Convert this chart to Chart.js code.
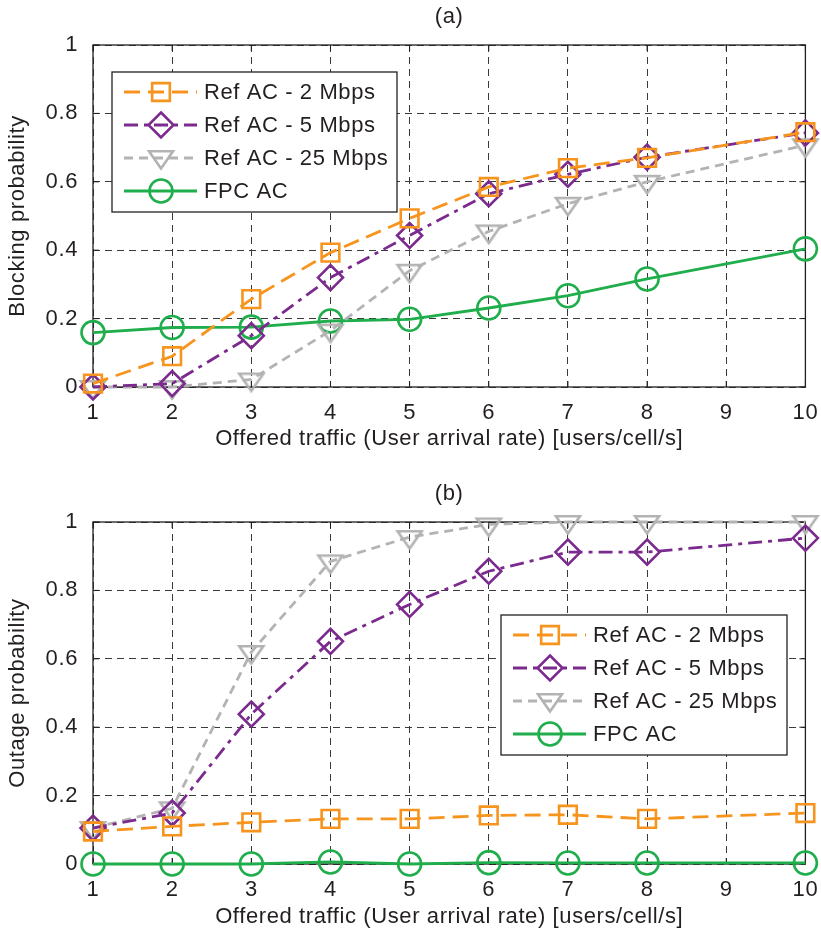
<!DOCTYPE html>
<html><head><meta charset="utf-8">
<script src="https://cdn.jsdelivr.net/npm/chart.js@4.4.0/dist/chart.umd.min.js"></script>
<style>
html,body{margin:0;padding:0;background:#fff;overflow:hidden;width:821px;height:938px}
.wrap{position:absolute;left:0;width:821px}
</style></head><body>
<div class="wrap" style="top:0;height:477px"><canvas id="c1" width="821" height="477"></canvas></div>
<div class="wrap" style="top:477px;height:461px"><canvas id="c2" width="821" height="461"></canvas></div>
<script>
// ---- data ----
const xValues = [1, 2, 3, 4, 5, 6, 7, 8, 10];
const xTickValues = [1, 2, 3, 4, 5, 6, 7, 8, 9, 10];
const yTickValues = [0, 0.2, 0.4, 0.6, 0.8, 1];
const yTickLabels = ['0', '0.2', '0.4', '0.6', '0.8', '1'];
const seriesNames = ['Ref AC - 2 Mbps', 'Ref AC - 5 Mbps', 'Ref AC - 25 Mbps', 'FPC AC'];

// (a) Blocking probability
const blockRef2  = [0.01, 0.09, 0.257, 0.393, 0.493, 0.585, 0.64, 0.67, 0.745];
const blockRef5  = [0.0, 0.01, 0.15, 0.32, 0.443, 0.565, 0.622, 0.672, 0.743];
const blockRef25 = [0.0, 0.0, 0.022, 0.165, 0.34, 0.455, 0.536, 0.60, 0.707];
const blockFPC   = [0.159, 0.174, 0.175, 0.193, 0.198, 0.231, 0.267, 0.316, 0.404];

// (b) Outage probability
const outRef2  = [0.095, 0.11, 0.122, 0.132, 0.132, 0.142, 0.144, 0.132, 0.149];
const outRef5  = [0.105, 0.149, 0.438, 0.651, 0.759, 0.856, 0.912, 0.912, 0.953];
const outRef25 = [0.105, 0.163, 0.62, 0.885, 0.956, 0.993, 1.0, 1.0, 1.0];
const outFPC   = [0.0, 0.0, 0.0, 0.006, 0.0, 0.004, 0.003, 0.003, 0.003];

// ---- styles ----
const FONT = "'Liberation Sans', Arial, Helvetica, sans-serif";
const FSIZE = 22;
const LSP = '0.6px';
const TEXT = '#231f20';
const colors = ['#f7941e', '#7b2a8e', '#b3b3b3', '#1fae4b'];
const dashes = [[16, 8], [14, 6, 4, 6], [9, 6], []];
const pStyles = ['rect', 'rectRot', 'tri', 'circle'];
const pRad = [12.5, 12.5, 13, 11.5];

function mkData(arr) { return xValues.map((x, i) => ({x: x, y: arr[i]})); }

// flat downward triangle (centroid at the point)
function triPath(ctx, x, y) {
  ctx.moveTo(x - 12, y - 5.7); ctx.lineTo(x + 12, y - 5.7); ctx.lineTo(x, y + 11.4); ctx.closePath();
}
function makeTriImage(color) {
  const c = document.createElement('canvas');
  c.width = 34; c.height = 34;
  const g = c.getContext('2d');
  g.strokeStyle = color; g.lineWidth = 2.6; g.lineJoin = 'miter';
  g.beginPath(); triPath(g, 17, 17); g.stroke();
  return c;
}
const triImage = makeTriImage(colors[2]);

function markerPath(ctx, style, x, y, r) {
  ctx.beginPath();
  if (style === 'rect') {
    const s = r * Math.SQRT1_2; ctx.rect(x - s, y - s, 2 * s, 2 * s);
  } else if (style === 'rectRot') {
    ctx.moveTo(x, y - r); ctx.lineTo(x + r, y); ctx.lineTo(x, y + r); ctx.lineTo(x - r, y); ctx.closePath();
  } else if (style === 'tri') {
    triPath(ctx, x, y);
  } else {
    ctx.arc(x, y, r, 0, Math.PI * 2);
  }
}

const framePlugin = {
  id: 'frame',
  beforeInit(chart) { try { chart.ctx.letterSpacing = LSP; } catch (e) {} },
  beforeDraw(chart) { try { chart.ctx.letterSpacing = LSP; } catch (e) {} },
  beforeDatasetsDraw(chart) {
    const ca = chart.chartArea, ctx = chart.ctx;
    const xs = chart.scales.x, ys = chart.scales.y;
    ctx.save();
    ctx.strokeStyle = '#231f20'; ctx.lineWidth = 1.3; ctx.setLineDash([]);
    ctx.strokeRect(ca.left, ca.top, ca.right - ca.left, ca.bottom - ca.top);
    ctx.lineWidth = 1;
    ctx.beginPath();
    xTickValues.forEach(v => {
      const px = xs.getPixelForValue(v);
      ctx.moveTo(px, ca.bottom); ctx.lineTo(px, ca.bottom - 6);
      ctx.moveTo(px, ca.top); ctx.lineTo(px, ca.top + 6);
    });
    yTickValues.forEach(v => {
      const py = ys.getPixelForValue(v);
      ctx.moveTo(ca.left, py); ctx.lineTo(ca.left + 6, py);
      ctx.moveTo(ca.right, py); ctx.lineTo(ca.right - 6, py);
    });
    ctx.stroke();
    ctx.restore();
  },
  afterDraw(chart, args, opts) {
    const ca = chart.chartArea, ctx = chart.ctx;
    ctx.save();
    try { ctx.letterSpacing = LSP; } catch (e) {}
    ctx.fillStyle = TEXT; ctx.font = FSIZE + 'px ' + FONT;
    ctx.textAlign = 'center'; ctx.textBaseline = 'middle';
    ctx.fillText(opts.title, (ca.left + ca.right) / 2, 17);
    // legend
    const L = opts.legend;
    const bx = ca.left + L.dx, by = ca.top + L.dy;
    ctx.fillStyle = '#fff';
    ctx.fillRect(bx, by, L.w, L.h);
    ctx.strokeStyle = '#231f20'; ctx.lineWidth = 1.3;
    ctx.strokeRect(bx, by, L.w, L.h);
    chart.data.datasets.forEach((ds, i) => {
      const yy = by + 20 + i * 33;
      ctx.strokeStyle = colors[i]; ctx.lineWidth = 2.8;
      ctx.setLineDash(dashes[i]);
      ctx.beginPath(); ctx.moveTo(bx + 12, yy); ctx.lineTo(bx + 85, yy); ctx.stroke();
      ctx.setLineDash([]);
      ctx.lineWidth = 2.6;
      const my = pStyles[i] === 'tri' ? yy - 1 : yy;
      markerPath(ctx, pStyles[i], bx + 49, my, pRad[i]);
      ctx.stroke();
      ctx.fillStyle = TEXT; ctx.font = FSIZE + 'px ' + FONT;
      ctx.textAlign = 'left'; ctx.textBaseline = 'middle';
      ctx.fillText(ds.label, bx + 92, yy + 1);
    });
    ctx.restore();
  }
};

function makeChart(id, title, yTitle, series, legend, xTitlePad, xScaleH) {
  const datasets = series.map((arr, i) => ({
    label: seriesNames[i],
    data: mkData(arr),
    borderColor: colors[i],
    backgroundColor: 'transparent',
    borderWidth: 2.8,
    borderDash: dashes[i],
    pointStyle: pStyles[i] === 'tri' ? triImage : pStyles[i],
    pointRadius: pRad[i],
    pointHoverRadius: pRad[i],
    pointBorderWidth: 2.6,
    pointBorderColor: colors[i],
    pointBackgroundColor: 'transparent',
    tension: 0,
    clip: false
  }));
  return new Chart(document.getElementById(id), {
    type: 'line',
    data: {datasets},
    plugins: [framePlugin],
    options: {
      responsive: false,
      animation: false,
      devicePixelRatio: 1,
      layout: {padding: {left: 0, right: 14, top: 45, bottom: 0}},
      plugins: {
        legend: {display: false},
        tooltip: {enabled: false},
        frame: {title: title, legend: legend}
      },
      scales: {
        x: {
          type: 'linear', min: 1, max: 10,
          afterBuildTicks: s => { s.ticks = xTickValues.map(v => ({value: v})); },
          afterFit: s => { s.height = xScaleH; s.paddingLeft = 0; s.paddingRight = 0; },
          ticks: {color: TEXT, font: {family: FONT, size: FSIZE}, padding: 13,
                  callback: v => String(v), maxRotation: 0, autoSkip: false},
          grid: {color: '#3a3a3a', lineWidth: 1, drawTicks: false},
          border: {display: false, dash: [7, 5]},
          title: {display: true, text: 'Offered traffic (User arrival rate) [users/cell/s]',
                  color: TEXT, font: {family: FONT, size: FSIZE}, padding: {top: 0, bottom: xTitlePad}}
        },
        y: {
          type: 'linear', min: 0, max: 1,
          afterBuildTicks: s => { s.ticks = yTickValues.map(v => ({value: v})); },
          afterFit: s => { s.width = 93; s.paddingTop = 0; s.paddingBottom = 0; },
          ticks: {color: TEXT, font: {family: FONT, size: FSIZE}, padding: 15,
                  callback: (v) => yTickLabels[yTickValues.indexOf(v)] ?? String(v)},
          grid: {color: '#3a3a3a', lineWidth: 1, drawTicks: false},
          border: {display: false, dash: [7, 5]},
          title: {display: true, text: yTitle, color: TEXT,
                  font: {family: FONT, size: FSIZE}, padding: {top: 5, bottom: 0}}
        }
      }
    }
  });
}

makeChart('c1', '(a)', 'Blocking probability',
  [blockRef2, blockRef5, blockRef25, blockFPC],
  {dx: 19, dy: 27, w: 285, h: 140}, 25, 90);
makeChart('c2', '(b)', 'Outage probability',
  [outRef2, outRef5, outRef25, outFPC],
  {dx: 408, dy: 93, w: 286, h: 140}, 8, 74);
</script>
</body></html>
